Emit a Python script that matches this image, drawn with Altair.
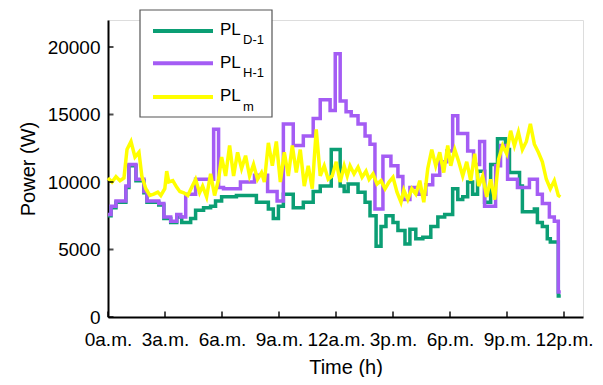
import altair as alt
import pandas as pd

# ---------------- data ----------------
hour_ticks = [0, 3, 6, 9, 12, 15, 18, 21, 24]
hour_labels = ["0a.m.", "3a.m.", "6a.m.", "9a.m.", "12a.m.", "3p.m.", "6p.m.", "9p.m.", "12p.m."]
power_ticks = [0, 5000, 10000, 15000, 20000]
series_names = ["D-1", "H-1", "m"]
series_colors = ["#0b9e74", "#a45cf4", "#ffff00"]

d1_t = [0.00, 0.16, 0.42, 0.94, 1.10, 1.47, 1.89, 2.05, 2.67, 2.94,
        3.30, 3.62, 3.88, 4.35, 4.61, 5.03, 5.40, 5.66, 5.98, 6.76,
        7.81, 8.44, 8.70, 8.97, 9.23, 9.75, 10.28, 10.80, 11.17, 11.75,
        12.22, 12.43, 12.64, 13.16, 13.53, 13.79, 14.11, 14.37, 14.63, 15.00,
        15.26, 15.63, 15.89, 16.20, 16.57, 16.99, 17.36, 17.72, 18.14, 18.41,
        18.67, 18.93, 19.19, 19.45, 19.82, 20.14, 20.50, 20.92, 21.13, 21.66,
        21.81, 22.44, 22.60, 22.86, 23.12, 23.28, 23.70, 23.83]
d1_v = [7500, 8100, 8500, 9600, 11200, 10100, 9200, 8500, 8300, 7300,
        7000, 7400, 7000, 7300, 7900, 8100, 8200, 8600, 8900, 9000,
        8500, 8000, 7300, 8200, 9100, 8100, 8500, 9300, 9700, 12400,
        9700, 9300, 9850, 9250, 8500, 7500, 5250, 6700, 7500, 7000,
        6400, 5400, 6500, 5800, 5900, 6700, 7400, 7600, 9500, 8700,
        8900, 10000, 9100, 10800, 8500, 11300, 13200, 12400, 10700, 9700,
        7800, 8000, 7000, 6700, 5800, 5550, 1550, 1550]

h1_t = [0.00, 0.16, 0.42, 0.94, 1.10, 1.47, 1.89, 2.05, 2.67, 2.94,
        3.30, 3.62, 3.83, 4.09, 4.61, 5.56, 5.82, 6.08, 6.97, 7.71,
        8.40, 8.90, 9.23, 9.75, 10.28, 10.80, 11.17, 11.69, 11.96, 12.22,
        12.53, 12.80, 13.16, 13.53, 13.79, 14.05, 14.47, 14.89, 15.26, 15.52,
        15.89, 16.31, 16.73, 17.09, 17.46, 17.83, 18.14, 18.41, 18.93, 19.24,
        19.56, 19.82, 20.40, 20.66, 21.03, 21.55, 22.18, 22.60, 22.86, 23.23,
        23.49, 23.70, 23.83]
h1_v = [7600, 8200, 8600, 9700, 11300, 10200, 9300, 8600, 8400, 7400,
        7100, 7600, 7400, 9100, 10200, 13900, 9600, 9500, 10000, 10500,
        9300, 8600, 14300, 12700, 13400, 14700, 16100, 15300, 19500, 16000,
        15200, 14900, 14300, 13400, 12800, 8000, 11900, 11200, 10400, 8700,
        9600, 9100, 9800, 10500, 11500, 12300, 14900, 13600, 12300, 11300,
        13000, 8200, 11200, 12700, 10200, 9600, 10200, 9100, 8400, 7400,
        7100, 1850, 1850]

m_t = [0.00, 0.21, 0.42, 0.63, 0.84, 1.00, 1.21, 1.42, 1.63, 1.78,
       1.99, 2.20, 2.41, 2.62, 2.78, 2.99, 3.09, 3.20, 3.41, 3.62,
       3.78, 3.99, 4.20, 4.40, 4.61, 4.82, 4.98, 5.19, 5.40, 5.61,
       5.82, 5.98, 6.19, 6.40, 6.61, 6.82, 7.03, 7.24, 7.45, 7.66,
       7.87, 8.08, 8.23, 8.44, 8.65, 8.86, 9.07, 9.28, 9.49, 9.70,
       9.91, 10.12, 10.33, 10.54, 10.75, 10.96, 11.17, 11.38, 11.59, 11.80,
       12.01, 12.22, 12.43, 12.59, 12.74, 12.95, 13.16, 13.37, 13.58, 13.74,
       13.95, 14.16, 14.37, 14.58, 14.79, 15.00, 15.21, 15.42, 15.57, 15.78,
       15.99, 16.20, 16.41, 16.62, 16.83, 17.04, 17.25, 17.46, 17.67, 17.88,
       18.04, 18.25, 18.46, 18.67, 18.88, 19.09, 19.30, 19.51, 19.72, 19.93,
       20.14, 20.35, 20.56, 20.77, 20.98, 21.19, 21.39, 21.60, 21.81, 22.02,
       22.23, 22.44, 22.65, 22.86, 23.07, 23.28, 23.49, 23.70, 23.81]
m_v = [10300, 10000, 10400, 10100, 10300, 12400, 13000, 11850, 12200, 10450,
       9500, 9000, 9100, 9250, 9000, 9500, 10800, 10000, 10100, 9600,
       9300, 9200, 9000, 9600, 10200, 9200, 9700, 8900, 10600, 9000,
       10200, 11850, 10450, 12700, 10450, 12200, 11000, 11950, 10450, 11300,
       10200, 10700, 10000, 12900, 11200, 13000, 10000, 12200, 10450, 12700,
       10700, 12400, 9700, 11200, 9500, 13900, 10450, 11200, 10200, 10450,
       11500, 10000, 11200, 10450, 11200, 10600, 11100, 10350, 10800, 10200,
       10600, 9850, 10100, 9500, 10000, 10350, 9250, 8500, 9400, 8700,
       9500, 9100, 10100, 8500, 11000, 12400, 11200, 12200, 10700, 12700,
       11200, 12400, 11500, 10450, 11500, 10100, 12100, 9700, 10450, 8900,
       10200, 8700, 11700, 12700, 12100, 13800, 12700, 13700, 12400, 13000,
       14300, 12800, 12200, 11500, 10200, 9500, 10100, 9000, 8900]

# ---------------- styling ----------------
W, H = 475, 297
FONT = "Liberation Sans"

xscale = alt.Scale(domain=[0, 25], nice=False, zero=False)
yscale = alt.Scale(domain=[0, 22000], nice=False)

label_expr = "[" + ",".join("'%s'" % s for s in hour_labels) + "][round(datum.value/3)]"

xaxis = alt.Axis(values=hour_ticks, labelExpr=label_expr, title="Time (h)",
                 ticks=False, tickSize=0, grid=False, domainColor="black", domainWidth=2,
                 labelFontSize=19, labelPadding=13, titleFontSize=20, titlePadding=8,
                 labelFont=FONT, titleFont=FONT, titleFontWeight="normal",
                 labelColor="black", titleColor="black", labelFlush=False, labelOverlap=False)
yaxis = alt.Axis(values=power_ticks, format="d", title="Power (W)",
                 ticks=False, tickSize=0, grid=False, domainColor="black", domainWidth=2,
                 labelFontSize=19, labelPadding=8, titleFontSize=20, titlePadding=9,
                 labelFont=FONT, titleFont=FONT, titleFontWeight="normal",
                 labelColor="black", titleColor="black", labelFlush=False, labelOverlap=False)


def series_layer(t, v, color, interp):
    df = pd.DataFrame({"t": t, "v": v})
    return alt.Chart(df).mark_line(color=color, strokeWidth=3.5, interpolate=interp).encode(
        x=alt.X("t:Q", scale=xscale, axis=xaxis),
        y=alt.Y("v:Q", scale=yscale, axis=yaxis),
    )


layers = [
    series_layer(d1_t, d1_v, series_colors[0], "step-after"),
    series_layer(h1_t, h1_v, series_colors[1], "step-after"),
    series_layer(m_t, m_v, series_colors[2], "linear"),
]

# inward ticks
layers.append(
    alt.Chart(pd.DataFrame({"t": hour_ticks})).mark_tick(
        orient="vertical", size=5.5, thickness=2, color="black").encode(
        x=alt.X("t:Q", scale=xscale, axis=xaxis), y=alt.value(H - 2.75))
)
layers.append(
    alt.Chart(pd.DataFrame({"v": power_ticks})).mark_tick(
        orient="horizontal", size=5.5, thickness=2, color="black").encode(
        y=alt.Y("v:Q", scale=yscale, axis=yaxis), x=alt.value(2.75))
)

# legend
one = pd.DataFrame({"a": [0]})
layers.append(
    alt.Chart(one).mark_rect(fill="white", stroke="#555555", strokeWidth=1.2).encode(
        x=alt.value(32), x2=alt.value(164), y=alt.value(-10), y2=alt.value(97))
)
line_y = [11, 43.3, 77]
pl_y = [15, 48.3, 81]
sub_y = [24, 57, 91]
for i, name in enumerate(series_names):
    layers.append(
        alt.Chart(one).mark_rule(color=series_colors[i], strokeWidth=4).encode(
            x=alt.value(45), x2=alt.value(105), y=alt.value(line_y[i]))
    )
    layers.append(
        alt.Chart(one).mark_text(text="PL", fontSize=17, font=FONT, align="left",
                                 baseline="alphabetic", color="black").encode(
            x=alt.value(112), y=alt.value(pl_y[i]))
    )
    layers.append(
        alt.Chart(one).mark_text(text=name, fontSize=13, font=FONT, align="left",
                                 baseline="alphabetic", color="black").encode(
            x=alt.value(135), y=alt.value(sub_y[i]))
    )

chart = alt.layer(*layers).properties(
    width=W, height=H,
    autosize=alt.AutoSizeParams(type="none"),
    padding={"left": 100, "top": 12, "right": 12, "bottom": 60},
).configure_view(strokeWidth=0).configure(font=FONT)

chart.save("out.html", embed_options={"renderer": "svg", "actions": False})
